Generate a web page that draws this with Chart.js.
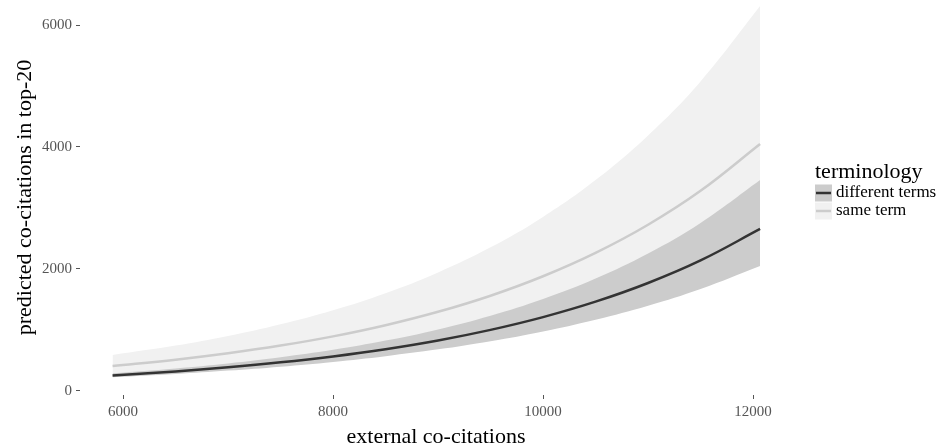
<!DOCTYPE html>
<html>
<head>
<meta charset="utf-8">
<script src="https://cdn.jsdelivr.net/npm/chart.js@4.4.1/dist/chart.umd.min.js"></script>
<style>
  html, body { margin: 0; padding: 0; background: #fff; }
  #wrap { width: 940px; height: 446px; }
</style>
</head>
<body>
<div id="wrap"><canvas id="chart" width="940" height="446"></canvas></div>
<script>
// external co-citations (x positions where values were read)
const extCites = [5900, 6500, 7000, 7500, 8000, 8500, 9000, 9500, 10000, 10500, 11000, 11500, 12067];

// same term: fit and interval
const sameFit   = [410, 513, 618, 744, 895, 1078, 1298, 1562, 1881, 2264, 2725, 3281, 4049];
const sameUpper = [590, 744, 902, 1093, 1324, 1604, 1944, 2355, 2854, 3457, 4189, 5075, 6311];
const sameLower = [285, 353, 423, 505, 604, 723, 865, 1034, 1237, 1480, 1770, 2117, 2596];

// different terms: fit and interval
const diffFit   = [255, 321, 388, 469, 567, 685, 828, 1002, 1211, 1464, 1770, 2140, 2656];
const diffUpper = [290, 370, 452, 553, 675, 826, 1009, 1234, 1509, 1844, 2254, 2755, 3459];
const diffLower = [225, 279, 334, 399, 477, 571, 683, 817, 977, 1168, 1397, 1672, 2049];

const xTickValues = [6000, 8000, 10000, 12000];
const yTickValues = [0, 2000, 4000, 6000];

const legendTitle = 'terminology';
const legendLabels = ['different terms', 'same term'];

const serif = "'Liberation Serif', 'DejaVu Serif', serif";

function pts(vals) {
    return extCites.map((x, i) => ({ x: x, y: vals[i] }));
}

function band(vals, color, fill, order) {
    return {
        data: pts(vals),
        borderWidth: 0,
        borderColor: 'rgba(0,0,0,0)',
        backgroundColor: color,
        pointRadius: 0,
        fill: fill,
        order: order,
        tension: 0.4
    };
}

function line(vals, color, order) {
    return {
        data: pts(vals),
        borderWidth: 2.5,
        borderColor: color,
        pointRadius: 0,
        fill: false,
        order: order,
        tension: 0.4
    };
}

// draws the ggplot style legend on the right
const legendPlugin = {
    id: 'sideLegend',
    afterDraw(chart) {
        const ctx = chart.ctx;
        const x0 = 815;
        ctx.save();
        ctx.fillStyle = '#000';
        ctx.textBaseline = 'middle';
        ctx.textAlign = 'left';
        ctx.font = '22px ' + serif;
        ctx.fillText(legendTitle, x0, 172);

        const keys = [
            { bg: '#cccccc', line: '#333333' },
            { bg: '#f1f1f1', line: '#cccccc' }
        ];
        keys.forEach((k, i) => {
            const cy = 193 + i * 18;
            ctx.fillStyle = k.bg;
            ctx.fillRect(x0, cy - 8.5, 17, 17);
            ctx.strokeStyle = k.line;
            ctx.lineWidth = 2.5;
            ctx.beginPath();
            ctx.moveTo(x0 + 1, cy);
            ctx.lineTo(x0 + 16, cy);
            ctx.stroke();
            ctx.fillStyle = '#000';
            ctx.font = '17px ' + serif;
            ctx.fillText(legendLabels[i], x0 + 21, cy);
        });
        ctx.restore();
    }
};

new Chart(document.getElementById('chart').getContext('2d'), {
    type: 'line',
    data: {
        datasets: [
            band(sameUpper, '#f1f1f1', '+1', 4),
            band(sameLower, '#f1f1f1', false, 4),
            band(diffUpper, '#cccccc', '+1', 3),
            band(diffLower, '#cccccc', false, 3),
            line(sameFit, '#cccccc', 2),
            line(diffFit, '#333333', 1)
        ]
    },
    options: {
        responsive: false,
        animation: false,
        layout: { padding: { top: 0, right: 148, left: 0, bottom: 0 } },
        plugins: {
            legend: { display: false },
            tooltip: { enabled: false }
        },
        scales: {
            x: {
                type: 'linear',
                min: 5590,
                max: 12371,
                afterFit: s => { s.height = 51; s.paddingLeft = 0; s.paddingRight = 0; },
                afterBuildTicks: s => { s.ticks = xTickValues.map(v => ({ value: v })); },
                border: { display: false },
                grid: { drawOnChartArea: false, drawTicks: true, tickLength: 4, color: '#555', lineWidth: 1 },
                ticks: {
                    padding: 4,
                    color: '#555',
                    font: { family: serif, size: 15 },
                    callback: v => String(v),
                    maxRotation: 0
                },
                title: {
                    display: true,
                    text: 'external co-citations',
                    color: '#000',
                    font: { family: serif, size: 22 },
                    padding: { top: 0, bottom: -4 }
                }
            },
            y: {
                type: 'linear',
                min: -66,
                max: 6410,
                afterFit: s => { s.width = 80; s.paddingTop = 0; s.paddingBottom = 0; },
                afterBuildTicks: s => { s.ticks = yTickValues.map(v => ({ value: v })); },
                border: { display: false },
                grid: { drawOnChartArea: false, drawTicks: true, tickLength: 4, color: '#555', lineWidth: 1 },
                ticks: {
                    padding: 4,
                    color: '#555',
                    font: { family: serif, size: 15 },
                    callback: v => String(v)
                },
                title: {
                    display: true,
                    text: 'predicted co-citations in top-20',
                    color: '#000',
                    font: { family: serif, size: 22 },
                    padding: { top: 12, bottom: 0 }
                }
            }
        }
    },
    plugins: [legendPlugin]
});
</script>
</body>
</html>
